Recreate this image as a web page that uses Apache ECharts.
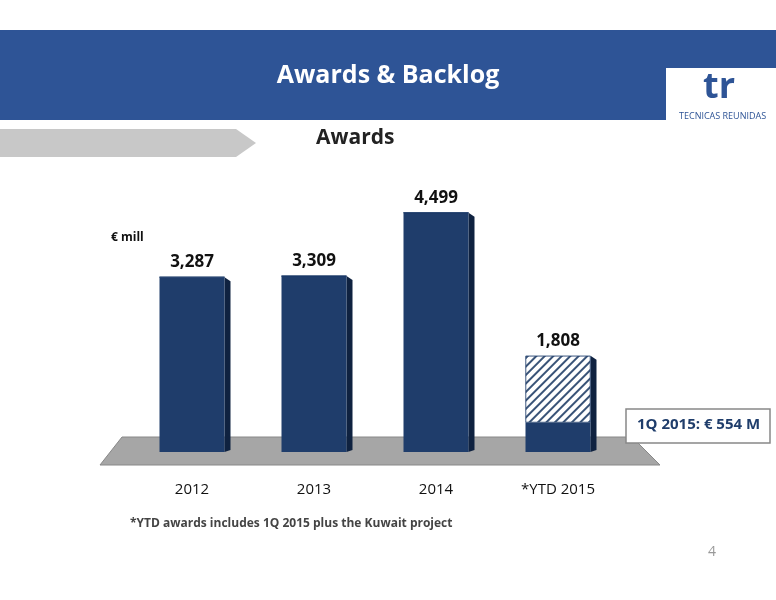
<!DOCTYPE html>
<html><head><meta charset="utf-8">
<script src="https://cdn.jsdelivr.net/npm/echarts@6/dist/echarts.min.js"></script>
<style>html,body{margin:0;padding:0;background:#fff}#c{width:776px;height:600px}</style>
</head><body><div id="c"></div>
<script>
const categories = ['2012', '2013', '2014', '*YTD 2015'];
const solidValues = [3287, 3309, 4499, 554];
const hatchedValues = [0, 0, 0, 1254];
const totals = [3287, 3309, 4499, 1808];
const totalLabels = ['3,287', '3,309', '4,499', '1,808'];

const chart = echarts.init(document.getElementById('c'));
const F = 'Open Sans, Lato, sans-serif';
const blue = '#1F3D6B';
chart.setOption({
  animation: false,
  backgroundColor: '#fff',
  grid: { left: 131, width: 488, top: 186, height: 266 },
  xAxis: { type: 'category', data: categories, axisLine: { show: false }, axisTick: { show: false },
    axisLabel: { margin: 30, fontSize: 15, color: '#111', fontFamily: F } },
  yAxis: { type: 'value', min: 0, max: 5000, show: false, splitLine: { show: false } },
  graphic: [
    { type: 'rect', shape: { x: 0, y: 30, width: 776, height: 90 }, style: { fill: '#2E5496' }, z: -10 },
    { type: 'text', left: 'center', top: 63, style: { text: 'Awards & Backlog', fill: '#fff', font: 'bold 25px ' + F } },
    { type: 'rect', shape: { x: 666, y: 68, width: 110, height: 58 }, style: { fill: '#fff' } },
    { type: 'text', x: 703, y: 70, style: { text: 'tr', fill: '#2E5496', font: 'bold 36px ' + F } },
    { type: 'text', x: 679, y: 112, style: { text: 'TECNICAS REUNIDAS', fill: '#2E5496', font: '9px ' + F } },
    { type: 'polygon', shape: { points: [[0, 129], [236, 129], [256, 143], [236, 157], [0, 157]] }, style: { fill: '#C8C8C8' } },
    { type: 'text', x: 316, y: 128, style: { text: 'Awards', fill: '#222', font: 'bold 21px ' + F } },
    { type: 'polygon', shape: { points: [[122, 437], [632, 437], [660, 465], [100, 465]] }, style: { fill: '#A6A6A6', stroke: '#888' }, z: -5 },
    { type: 'text', x: 111, y: 232, style: { text: '€ mill', fill: '#111', font: 'bold 12px ' + F } },
    { type: 'rect', shape: { x: 626, y: 409, width: 144, height: 34 }, style: { fill: '#fff', stroke: '#888', lineWidth: 1.5 } },
    { type: 'text', x: 637, y: 417, style: { text: '1Q 2015: € 554 M', fill: blue, font: 'bold 15px ' + F } },
    { type: 'text', x: 130, y: 518, style: { text: '*YTD awards includes 1Q 2015 plus the Kuwait project', fill: '#444', font: 'bold 12px ' + F } },
    { type: 'text', x: 708, y: 545, style: { text: '4', fill: '#999', font: '14px ' + F } }
  ],
  series: [
    { type: 'bar', stack: 'a', data: solidValues, barWidth: 65, itemStyle: { color: blue }, z: 3 },
    { type: 'bar', stack: 'a', data: hatchedValues, barWidth: 65, z: 3,
      itemStyle: { color: '#fff', decal: { symbol: 'rect', dashArrayX: [1, 0], dashArrayY: [2, 4], rotation: -Math.PI / 4, color: '#3A5478' }, borderColor: blue, borderWidth: 0.5 },
      label: { show: true, position: 'top', distance: 6, formatter: p => totalLabels[p.dataIndex], fontSize: 17, fontWeight: 'bold', color: '#111', fontFamily: F } },
    { type: 'custom', z: 2, data: totals.map((v, i) => [i, v]),
      renderItem: (params, api) => {
        const top = api.coord([api.value(0), api.value(1)]);
        const base = api.coord([api.value(0), 0]);
        const x = top[0] + 32.5;
        return { type: 'polygon', shape: { points: [[x, top[1]], [x + 6, top[1] + 4], [x + 6, base[1] - 2], [x, base[1]]] }, style: { fill: '#0F2240' } };
      } }
  ]
});
</script></body></html>
